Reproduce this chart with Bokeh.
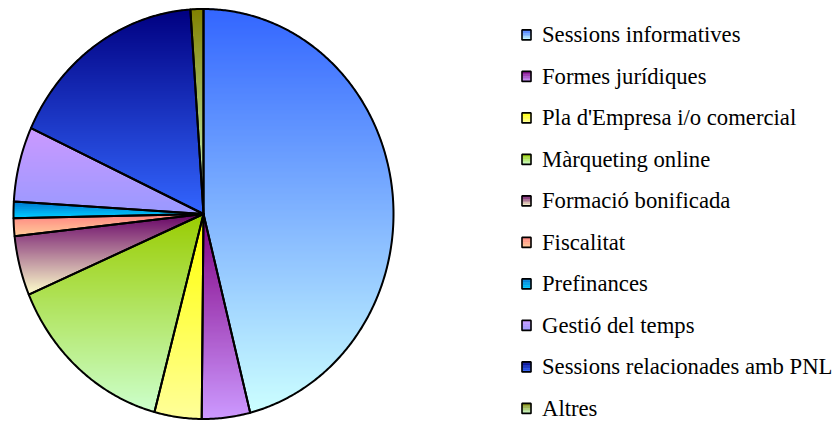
import numpy as np
from bokeh.plotting import figure
from bokeh.models import Range1d, ColumnDataSource
from bokeh.embed import file_html
from bokeh.resources import INLINE
from bokeh.core.properties import value

# ---- data ----
categories = [
    "Sessions informatives",
    "Formes jurídiques",
    "Pla d'Empresa i/o comercial",
    "Màrqueting online",
    "Formació bonificada",
    "Fiscalitat",
    "Prefinances",
    "Gestió del temps",
    "Sessions relacionades amb PNL",
    "Altres",
]
shares = [46.0, 4.1, 4.0, 14.4, 4.7, 1.4, 1.3, 5.9, 17.0, 1.1]
color_top = ["#3366FF", "#800080", "#FFFF00", "#99CC00", "#660066",
             "#FF8080", "#0070CC", "#CC99FF", "#000080", "#808000"]
color_bottom = ["#CCFFFF", "#CC99FF", "#FFFF99", "#CCFFCC", "#FFFFCC",
                "#FFCC99", "#00CCFF", "#9999FF", "#3366FF", "#CCFFCC"]

# ---- layout ----
W, H = 834, 421
CX, CY, RX, RY = 203.0, 213.5, 190.0, 205.0
LEG_SQ_X, LEG_TXT_X = 526.0, 541.5
LEG_Y0, LEG_STEP = 34.4, 41.5     # vertical centre of first legend row
SQ_W, SQ_H = 9.0, 10.0


def hex2rgb(h):
    h = h.lstrip("#")
    return np.array([int(h[i:i + 2], 16) for i in (0, 2, 4)], dtype=float)


def lerp_color(c0, c1, t):
    a, b = hex2rgb(c0), hex2rgb(c1)
    c = a + (b - a) * min(max(t, 0.0), 1.0)
    return "#%02x%02x%02x" % tuple(int(round(v)) for v in c)


def clip_half(pts, yb, keep_greater):
    out = []
    n = len(pts)
    for i in range(n):
        a, b = pts[i], pts[(i + 1) % n]
        ina = a[1] >= yb if keep_greater else a[1] <= yb
        inb = b[1] >= yb if keep_greater else b[1] <= yb
        if ina:
            out.append(a)
        if ina != inb:
            t = (yb - a[1]) / (b[1] - a[1])
            out.append((a[0] + t * (b[0] - a[0]), yb))
    return out


def clip_band(poly, y0, y1):
    pts = clip_half(poly, y0, True)
    if len(pts) >= 3:
        pts = clip_half(pts, y1, False)
    return pts


p = figure(width=W, height=H, x_range=Range1d(0, W), y_range=Range1d(H, 0),
           output_backend="svg", toolbar_location=None, min_border=0,
           x_axis_location=None, y_axis_location=None,
           outline_line_color=None, background_fill_color="white",
           border_fill_color="white")
p.grid.visible = False

total = float(sum(shares))
fracs = np.array(shares) / total
ends = np.cumsum(fracs) * 2 * np.pi
starts = ends - fracs * 2 * np.pi

band_xs, band_ys, band_cols = [], [], []
out_xs, out_ys = [], []
for i in range(len(categories)):
    a0, a1 = starts[i], ends[i]
    n = max(4, int(np.degrees(a1 - a0) * 2))
    t = np.linspace(a0, a1, n)
    px = [CX] + list(CX + RX * np.sin(t))
    py = [CY] + list(CY - RY * np.cos(t))
    poly = list(zip(px, py))
    out_xs.append(px)
    out_ys.append(py)
    ymin, ymax = min(py), max(py)
    step = 2.0
    y = ymin
    while y < ymax:
        yb = min(y + step, ymax)
        seg = clip_band(poly, y, yb)
        if len(seg) >= 3:
            band_xs.append([q[0] for q in seg])
            band_ys.append([q[1] for q in seg])
            band_cols.append(lerp_color(color_top[i], color_bottom[i],
                                        ((y + yb) / 2 - ymin) / (ymax - ymin)))
        y = yb

p.patches("xs", "ys", source=ColumnDataSource(dict(xs=band_xs, ys=band_ys, c=band_cols)),
          fill_color="c", line_color="c", line_width=1.2)
p.patches("xs", "ys", source=ColumnDataSource(dict(xs=out_xs, ys=out_ys)),
          fill_color=None, line_color="black", line_width=2, line_join="round")

# ---- legend ----
sq_l, sq_r, sq_t, sq_b, sq_c = [], [], [], [], []
box_x, box_y, txt_x, txt_y = [], [], [], []
for i, name in enumerate(categories):
    cy = LEG_Y0 + i * LEG_STEP
    top = cy - SQ_H / 2
    nb = 6
    for k in range(nb):
        sq_l.append(LEG_SQ_X - SQ_W / 2)
        sq_r.append(LEG_SQ_X + SQ_W / 2)
        sq_t.append(top + k * SQ_H / nb)
        sq_b.append(top + (k + 1) * SQ_H / nb)
        sq_c.append(lerp_color(color_top[i], color_bottom[i], (k + 0.5) / nb))
    box_x.append(LEG_SQ_X)
    box_y.append(cy)
    txt_x.append(LEG_TXT_X)
    txt_y.append(cy)

p.quad(left=sq_l, right=sq_r, top=sq_t, bottom=sq_b, fill_color=sq_c,
       line_color=sq_c, line_width=0.5)
p.rect(x=box_x, y=box_y, width=SQ_W, height=SQ_H, fill_color=None,
       line_color="black", line_width=1.6)
p.text(x=txt_x, y=txt_y, text=categories, text_font=value("Liberation Serif"),
       text_font_size="22.7px", text_color="black", text_baseline="middle",
       text_align="left")

open("out.html", "w").write(file_html(p, INLINE))
